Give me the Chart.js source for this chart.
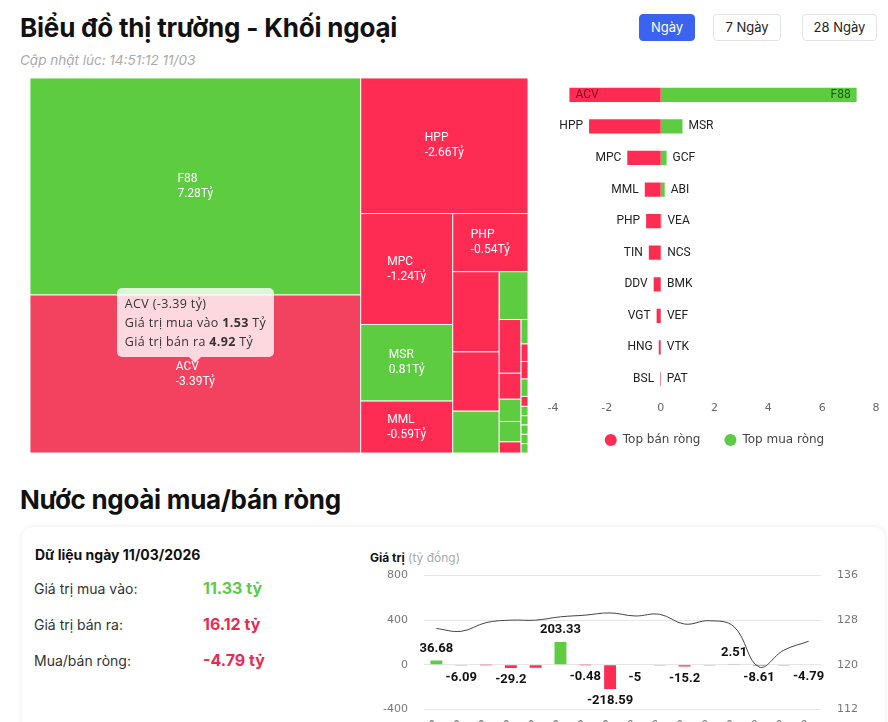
<!DOCTYPE html>
<html lang="vi">
<head>
<meta charset="utf-8">
<title>Biểu đồ thị trường - Khối ngoại</title>
<script src="https://cdn.jsdelivr.net/npm/chart.js@4.4.1/dist/chart.umd.min.js"></script>
<style>
  html, body { margin: 0; padding: 0; background: #fff; }
  body { width: 888px; height: 722px; overflow: hidden; position: relative; font-family: Inter, "Noto Sans", sans-serif; color: #111; }
  .abs { position: absolute; }
  h1, h2 { position: absolute; left: 20px; margin: 0; font-weight: 700; color: #111; white-space: nowrap; letter-spacing: -0.2px; }
  h1 { top: 12px; font-size: 26px; }
  h2 { top: 484px; font-size: 26px; letter-spacing: -0.3px; }
  .capnhat { left: 20px; top: 52px; font-size: 13.5px; font-style: italic; color: #aaa; }
  .btn { top: 14px; height: 27px; line-height: 25px; border: 1px solid #e3e3e3; border-radius: 4px; font-size: 13px; text-align: center; color: #222; box-sizing: border-box; }
  .btn.on { background: #3b63ef; border-color: #3b63ef; color: #fff; }
  .the { left: 22px; top: 527px; width: 863px; height: 240px; border-radius: 12px; background: #fff; box-shadow: 0 0 6px rgba(0,0,0,0.08); }
  .tieude { left: 35px; top: 546px; font-size: 14px; font-weight: 700; }
  .nhan { left: 34px; font-size: 14px; color: #333; }
  .so { left: 203px; font-size: 16px; font-weight: 700; }
  .xanh { color: #5fc94a; }
  .do { color: #ea2b51; }
  .donvi { left: 370px; top: 550px; font-size: 12px; }
  .donvi span { color: #aaa; font-weight: 400; }
  #tt { position: absolute; display: none; background: rgba(255,255,255,0.8); border-radius: 5px; padding: 6px 8px 6px 8px; font-family: "Open Sans", sans-serif; font-size: 12.5px; line-height: 19px; color: #333; white-space: nowrap; letter-spacing: 0.35px; pointer-events: none; }
  #tt::after { content: ""; position: absolute; left: 50%; bottom: -6px; margin-left: -6px; border-left: 6px solid transparent; border-right: 6px solid transparent; border-top: 6px solid rgba(255,255,255,0.8); }
</style>
</head>
<body>
<h1>Biểu đồ thị trường - Khối ngoại</h1>
<div class="abs capnhat">Cập nhật lúc: 14:51:12 11/03</div>
<div class="abs btn on" style="left:639px;width:56px;">Ngày</div>
<div class="abs btn" style="left:713px;width:68px;">7 Ngày</div>
<div class="abs btn" style="left:802px;width:75px;">28 Ngày</div>

<div class="abs" id="tmWrap" style="left:30px;top:78px;width:498px;height:375px;"><canvas id="treemap"></canvas></div>
<div class="abs" style="left:540px;top:78px;width:348px;height:378px;"><canvas id="topRong"></canvas></div>
<div id="tt"></div>

<h2>Nước ngoài mua/bán ròng</h2>
<div class="abs the"></div>
<div class="abs tieude">Dữ liệu ngày 11/03/2026</div>
<div class="abs nhan" style="top:580px;">Giá trị mua vào:</div>
<div class="abs so xanh" style="top:578px;">11.33 tỷ</div>
<div class="abs nhan" style="top:616px;">Giá trị bán ra:</div>
<div class="abs so do" style="top:614px;">16.12 tỷ</div>
<div class="abs nhan" style="top:652px;">Mua/bán ròng:</div>
<div class="abs so do" style="top:650px;">-4.79 tỷ</div>
<div class="abs donvi"><b>Giá trị</b> <span>(tỷ đồng)</span></div>
<div class="abs" style="left:360px;top:553px;width:528px;height:204px;"><canvas id="lichSu"></canvas></div>

<script>
// ===== dữ liệu treemap (tỷ đồng) =====
const maCK      = ["F88","ACV","HPP","MPC","MSR","MML","PHP","TIN","DDV","GCF","ABI","VGT","HNG","VEA","NCS","BSL","BMK","SBD","CMS","VEF","HU1","VTK","PAT","MH3","SCL","VLB"];
const giaTriMua = [8.07, 1.53, 0.07, 0.01, 0.84, 0.00, 0.00, 0.01, 0.04, 0.23, 0.16, 0.00, 0.00, 0.045, 0.0375, 0.005, 0.02, 0.00, 0.001, 0.015, 0.00, 0.008, 0.008, 0.008, 0.008, 0.008];
const giaTriBan = [0.79, 4.92, 2.73, 1.25, 0.03, 0.59, 0.54, 0.45, 0.30, 0.01, 0.01, 0.145, 0.07, 0.015, 0.0175, 0.025, 0.001, 0.015, 0.014, 0.00, 0.0085, 0.00, 0.00, 0.00, 0.00, 0.00];

// ===== top bán ròng / mua ròng =====
const topBanMa  = ["ACV","HPP","MPC","MML","PHP","TIN","DDV","VGT","HNG","BSL"];
const topBan    = [-3.39, -2.66, -1.24, -0.59, -0.54, -0.44, -0.26, -0.15, -0.07, -0.02];
const topMuaMa  = ["F88","MSR","GCF","ABI","VEA","NCS","BMK","VEF","VTK","PAT"];
const topMua    = [7.28, 0.81, 0.22, 0.15, 0.03, 0.02, 0.01, 0.01, 0.005, 0.004];
const trucTop   = [-4, -2, 0, 2, 4, 6, 8];

// ===== lịch sử mua/bán ròng =====
const ngay     = ["11/02","12/02","13/02","23/02","24/02","25/02","26/02","27/02","02/03","03/03","04/03","05/03","06/03","09/03","10/03","11/03"];
const muaBanRong = [36.68, -6.09, -1.35, -29.2, -28.4, 203.33, -0.48, -218.59, -5, -2.3, -15.2, -1.8, 2.51, -8.61, -3.2, -4.79];
const chiSo    = [126.5, 126.0, 127.55, 128.0, 128.0, 128.6, 128.9, 129.3, 128.75, 129.05, 127.3, 127.9, 126.8, 119.6, 122.6, 124.2];
const trucTrai = [-400, 0, 400, 800];
const trucPhai = [112, 120, 128, 136];

const XANH = "#5ecc41";
const DO = "#fe2b53";
const DO_HOVER = "#f2425f";

Chart.defaults.font.family = "'DejaVu Sans', sans-serif";
Chart.defaults.animation = false;

// --- chia ô kiểu squarify, đổi hướng luân phiên ---
function tyLe(hang, dai) {
  const tong = hang.reduce((a, b) => a + b, 0);
  const day = tong / dai;
  let s = 0;
  hang.forEach(a => { const l = a / day; s += Math.max(l / day, day / l); });
  return s / hang.length;
}
function chiaO(giaTri, W, H) {
  const tong = giaTri.reduce((a, b) => a + b, 0);
  const dt = giaTri.map(v => v * W * H / tong);
  const r = { x: 0, y: 0, w: W, h: H };
  const kq = [];
  let doc = true, i = 0;
  while (i < dt.length) {
    const dai = doc ? r.h : r.w;
    const hang = [dt[i]];
    let j = i + 1, cur = tyLe(hang, dai);
    while (j < dt.length) {
      const moi = tyLe(hang.concat(dt[j]), dai);
      if (moi > cur) break;
      hang.push(dt[j]); cur = moi; j++;
    }
    const day = hang.reduce((a, b) => a + b, 0) / dai;
    let off = 0;
    hang.forEach(a => {
      const l = a / day;
      if (doc) kq.push({ x: r.x, y: r.y + off, w: day, h: l });
      else kq.push({ x: r.x + off, y: r.y, w: l, h: day });
      off += l;
    });
    if (doc) { r.x += day; r.w -= day; } else { r.y += day; r.h -= day; }
    doc = !doc;
    i = j;
  }
  return kq.map(o => ({ x: o.x / W, y: o.y / H, w: o.w / W, h: o.h / H }));
}

const rong = maCK.map((_, i) => giaTriMua[i] - giaTriBan[i]);
const tongGD = maCK.map((_, i) => giaTriMua[i] + giaTriBan[i]);
const khung = document.getElementById("tmWrap");
const oTM = chiaO(tongGD, khung.clientWidth, khung.clientHeight);

const oVuongPlugin = {
  id: "oVuong",
  beforeDatasetsDraw(chart) {
    const { ctx } = chart;
    const xs = chart.scales.x, ys = chart.scales.y;
    const active = chart.getActiveElements().map(a => a.index);
    ctx.save();
    oTM.forEach((o, i) => {
      const l = xs.getPixelForValue(o.x), r = xs.getPixelForValue(o.x + o.w);
      const t = ys.getPixelForValue(o.y), b = ys.getPixelForValue(o.y + o.h);
      ctx.fillStyle = rong[i] >= 0 ? XANH : (active.includes(i) ? DO_HOVER : DO);
      ctx.fillRect(l, t, r - l, b - t);
      ctx.strokeStyle = "rgba(255,255,255,0.9)";
      ctx.lineWidth = 1;
      ctx.strokeRect(l, t, r - l, b - t);
      // nhãn mã + giá trị ròng
      ctx.font = "12px Roboto";
      const d1 = maCK[i], d2 = rong[i].toFixed(2) + "Tỷ";
      const w = Math.max(ctx.measureText(d1).width, ctx.measureText(d2).width);
      if (r - l > w + 24 && b - t > 40) {
        ctx.fillStyle = "#fff";
        ctx.textBaseline = "middle";
        ctx.textAlign = "left";
        const cx = (l + r) / 2 - w / 2, cy = (t + b) / 2;
        ctx.fillText(d1, cx, cy - 7.5);
        ctx.fillText(d2, cx, cy + 7.5);
      }
    });
    ctx.restore();
  }
};

function tooltipNgoai(context) {
  const { chart, tooltip } = context;
  const el = document.getElementById("tt");
  if (tooltip.opacity === 0 || !tooltip.dataPoints || !tooltip.dataPoints.length) {
    el.style.display = "none";
    return;
  }
  const i = tooltip.dataPoints[0].dataIndex;
  el.innerHTML =
    "<div>" + maCK[i] + " (" + rong[i].toFixed(2) + " tỷ)</div>" +
    "<div>Giá trị mua vào <b>" + giaTriMua[i].toFixed(2) + "</b> Tỷ</div>" +
    "<div>Giá trị bán ra <b>" + giaTriBan[i].toFixed(2) + "</b> Tỷ</div>";
  el.style.display = "block";
  const c = chart.canvas.getBoundingClientRect();
  el.style.left = (c.left + tooltip.caretX - el.offsetWidth / 2) + "px";
  el.style.top = (c.top + tooltip.caretY - el.offsetHeight - 17) + "px";
}

const tm = new Chart(document.getElementById("treemap"), {
  type: "scatter",
  data: {
    datasets: [{
      label: "Khối ngoại",
      data: oTM.map(o => ({ x: o.x + o.w / 2, y: o.y + o.h / 2 })),
      pointRadius: 0,
      pointHoverRadius: 0,
      pointHitRadius: 10
    }]
  },
  options: {
    responsive: true,
    maintainAspectRatio: false,
    layout: { padding: 0 },
    scales: {
      x: { type: "linear", min: 0, max: 1, display: false },
      y: { type: "linear", min: 0, max: 1, reverse: true, display: false }
    },
    plugins: {
      legend: { display: false },
      tooltip: { enabled: false, external: tooltipNgoai }
    }
  },
  plugins: [oVuongPlugin]
});

// hiện tooltip ACV như ảnh gốc
const iACV = maCK.indexOf("ACV");
const diem = tm.getDatasetMeta(0).data[iACV];
tm.setActiveElements([{ datasetIndex: 0, index: iACV }]);
tm.tooltip.setActiveElements([{ datasetIndex: 0, index: iACV }], { x: diem.x, y: diem.y });
tm.update();

// ===== top bán ròng / mua ròng =====
const nhanTenPlugin = {
  id: "nhanTen",
  afterDatasetsDraw(chart) {
    const { ctx, chartArea } = chart;
    ctx.save();
    ctx.font = "12px Roboto";
    ctx.textBaseline = "middle";
    chart.data.datasets.forEach((ds, di) => {
      chart.getDatasetMeta(di).data.forEach((bar, i) => {
        const ten = ds.ten[i];
        const w = ctx.measureText(ten).width;
        const am = ds.data[i] < 0;
        let x = bar.x + (am ? -6 : 6);
        let canh = am ? "right" : "left";
        let mau = "#222";
        // không đủ chỗ bên ngoài → ghi bên trong thanh
        if (am ? x - w < chartArea.left : x + w > chartArea.right) {
          x = bar.x + (am ? 6 : -6);
          canh = am ? "left" : "right";
          mau = ds.mauChu;
        }
        ctx.textAlign = canh;
        ctx.fillStyle = mau;
        ctx.fillText(ten, x, bar.y);
      });
    });
    ctx.restore();
  }
};

new Chart(document.getElementById("topRong"), {
  type: "bar",
  data: {
    labels: topBanMa.map((m, i) => m + "/" + topMuaMa[i]),
    datasets: [
      { label: "Top bán ròng", data: topBan, ten: topBanMa, backgroundColor: DO, mauChu: "#7d0a22",
        categoryPercentage: 0.5, barPercentage: 0.9 },
      { label: "Top mua ròng", data: topMua, ten: topMuaMa, backgroundColor: XANH, mauChu: "#1d5c10",
        categoryPercentage: 0.5, barPercentage: 0.9 }
    ]
  },
  options: {
    indexAxis: "y",
    responsive: true,
    maintainAspectRatio: false,
    layout: { padding: { left: 13, right: 12, top: 1 } },
    scales: {
      x: {
        stacked: true, min: trucTop[0], max: trucTop[trucTop.length - 1],
        grid: { display: false, drawTicks: false }, border: { display: false },
        ticks: { stepSize: 2, color: "#666", font: { size: 11 }, padding: 7 }
      },
      y: { stacked: true, display: false }
    },
    plugins: {
      legend: {
        position: "bottom",
        labels: {
          usePointStyle: true, pointStyle: "circle", boxWidth: 12, boxHeight: 8.5, padding: 12,
          color: "#444", font: { size: 12 },
          // khoảng cách giữa hai mục chú thích rộng hơn padding dọc
          generateLabels: chart => Chart.defaults.plugins.legend.labels.generateLabels(chart)
            .map((it, k) => Object.assign(it, { text: it.text + (k === 0 ? "\u2003" : "") }))
        }
      },
      tooltip: { enabled: false }
    }
  },
  plugins: [nhanTenPlugin]
});

// ===== lịch sử =====
const nhanCotPlugin = {
  id: "nhanCot",
  afterDatasetsDraw(chart) {
    const { ctx } = chart;
    const meta = chart.getDatasetMeta(1);
    const ds = chart.data.datasets[1];
    ctx.save();
    ctx.font = "bold 13px Roboto";
    ctx.fillStyle = "#111";
    ctx.textAlign = "center";
    ctx.textBaseline = "middle";
    const daVe = [];
    meta.data.forEach((bar, i) => {
      const v = ds.data[i];
      const chu = String(v);
      const w = ctx.measureText(chu).width + 8;
      const cy = v >= 0 ? bar.y - 12 : bar.y + 12;
      const hop = { l: bar.x - w / 2, r: bar.x + w / 2, t: cy - 8, b: cy + 8 };
      if (daVe.some(h => hop.l < h.r && hop.r > h.l && hop.t < h.b && hop.b > h.t)) return;
      daVe.push(hop);
      ctx.fillText(chu, bar.x, cy);
    });
    ctx.restore();
  }
};

new Chart(document.getElementById("lichSu"), {
  data: {
    labels: ngay,
    datasets: [
      { type: "line", label: "Chỉ số", data: chiSo, yAxisID: "y1", borderColor: "#444", borderWidth: 1,
        pointRadius: 0, tension: 0.4, order: 0 },
      { type: "bar", label: "Mua/bán ròng", data: muaBanRong, yAxisID: "y",
        backgroundColor: muaBanRong.map(v => v >= 0 ? XANH : DO),
        categoryPercentage: 0.8, barPercentage: 0.6, order: 1 }
    ]
  },
  options: {
    responsive: true,
    maintainAspectRatio: false,
    layout: { padding: { top: 0 } },
    scales: {
      x: { grid: { display: false, drawTicks: false }, border: { display: false },
           ticks: { color: "#777", font: { size: 11 }, minRotation: 45, maxRotation: 45, autoSkip: false, padding: 8 } },
      y: {
        position: "left", min: trucTrai[0], max: trucTrai[trucTrai.length - 1],
        afterFit: s => { s.width = 64; },
        grid: { color: "#e6e6e6", drawTicks: false }, border: { display: false },
        ticks: { stepSize: 400, color: "#777", font: { size: 11 }, padding: 16 }
      },
      y1: {
        position: "right", min: trucPhai[0], max: trucPhai[trucPhai.length - 1],
        afterFit: s => { s.width = 67; },
        grid: { display: false, drawTicks: false }, border: { display: false },
        ticks: { stepSize: 8, color: "#777", font: { size: 11 }, padding: 16 }
      }
    },
    plugins: { legend: { display: false }, tooltip: { enabled: false } }
  },
  plugins: [nhanCotPlugin]
});
</script>
</body>
</html>
